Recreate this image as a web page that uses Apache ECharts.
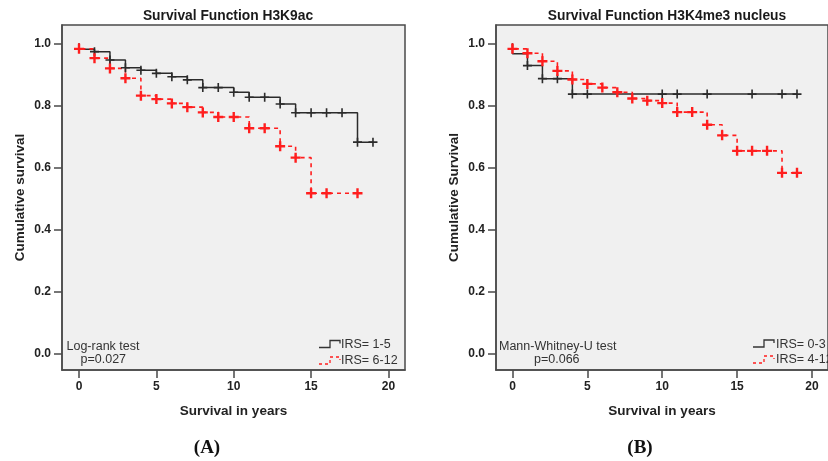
<!DOCTYPE html>
<html>
<head>
<meta charset="utf-8">
<script src="https://cdn.jsdelivr.net/npm/echarts@6/dist/echarts.min.js"></script>
<style>
html,body{margin:0;padding:0;background:#fff}
#chart{width:828px;height:461px}
</style>
</head>
<body>
<div id="chart"></div>
<script>
// tick labels
var xTicks = [0, 5, 10, 15, 20];
var yTicks = [0, 0.2, 0.4, 0.6, 0.8, 1.0];

// A: H3K9ac, IRS 1-5 (black)
var timeA1 = [0, 0, 1, 2, 3, 4, 5, 6, 7, 8, 9, 10, 11, 12, 13, 14, 15, 16, 17, 18, 19];
var survA1 = [1.0, 0.981, 0.973, 0.946, 0.921, 0.913, 0.903, 0.892, 0.882, 0.857, 0.857, 0.842, 0.826, 0.826, 0.804, 0.776, 0.776, 0.776, 0.776, 0.681, 0.681];
var censA1 = [1, 2, 3, 4, 5, 6, 7, 8, 9, 10, 11, 12, 13, 14, 15, 16, 17, 18, 19];

// A: H3K9ac, IRS 6-12 (red)
var timeA2 = [0, 0, 1, 2, 3, 4, 5, 6, 7, 8, 9, 10, 11, 12, 13, 14, 15, 16, 18];
var survA2 = [1.0, 0.982, 0.952, 0.919, 0.887, 0.831, 0.820, 0.806, 0.794, 0.777, 0.762, 0.762, 0.726, 0.726, 0.668, 0.631, 0.516, 0.516, 0.516];
var censA2 = [0, 1, 2, 3, 4, 5, 6, 7, 8, 9, 10, 11, 12, 13, 14, 15, 16, 18];

// B: H3K4me3 nucleus, IRS 0-3 (black)
var timeB1 = [0, 0, 1, 2, 3, 4, 5, 10, 11, 13, 16, 18, 19];
var survB1 = [1.0, 0.966, 0.928, 0.886, 0.886, 0.836, 0.836, 0.836, 0.836, 0.836, 0.836, 0.836, 0.836];
var censB1 = [1, 2, 3, 4, 5, 10, 11, 13, 16, 18, 19];

// B: H3K4me3 nucleus, IRS 4-12 (red)
var timeB2 = [0, 0, 1, 2, 3, 4, 5, 6, 7, 8, 9, 10, 11, 12, 13, 14, 15, 16, 17, 18, 19];
var survB2 = [1.0, 0.982, 0.968, 0.942, 0.911, 0.883, 0.869, 0.857, 0.842, 0.822, 0.815, 0.807, 0.778, 0.778, 0.737, 0.703, 0.653, 0.653, 0.653, 0.582, 0.582];
var censB2 = [0, 1, 2, 3, 4, 5, 6, 7, 8, 9, 10, 11, 12, 13, 14, 15, 16, 17, 18, 19];

var FONT = '"Liberation Sans", Arial, sans-serif';
var BLACK = '#2b2b2b';
var RED = '#ff1e1e';
var PLUS_THIN = 'path://M4.1,0H5.9V4.1H10V5.9H5.9V10H4.1V5.9H0V4.1H4.1Z';
var PLUS_BOLD = 'path://M3.8,0H6.2V3.8H10V6.2H6.2V10H3.8V6.2H0V3.8H3.8Z';

function pairs(t, s) {
  var out = [];
  for (var i = 0; i < t.length; i++) out.push([t[i], s[i]]);
  return out;
}
// level of the step curve at a censoring time
function censorPts(cens, t, s) {
  var out = [];
  for (var i = 0; i < cens.length; i++) {
    var v = s[0];
    for (var j = 0; j < t.length; j++) if (t[j] <= cens[i]) v = s[j];
    out.push([cens[i], v]);
  }
  return out;
}

function xAx(idx) {
  return {
    type: 'value', gridIndex: idx, min: -1.1, max: 21.07,
    name: 'Survival in years', nameLocation: 'middle', nameGap: 34,
    nameTextStyle: {fontFamily: FONT, fontWeight: 'bold', fontSize: 13.5, color: '#222'},
    axisLine: {show: true, onZero: false, lineStyle: {color: '#4a4a4a', width: 1.5}},
    axisTick: {show: true, length: 8, customValues: xTicks, lineStyle: {color: '#4a4a4a', width: 1.5}},
    axisLabel: {customValues: xTicks, margin: 11, fontFamily: FONT, fontWeight: 'bold', fontSize: 12, color: '#222'},
    splitLine: {show: false}
  };
}
function yAx(idx, name) {
  return {
    type: 'value', gridIndex: idx, min: -0.054, max: 1.059,
    name: name, nameLocation: 'middle', nameGap: 35,
    nameTextStyle: {fontFamily: FONT, fontWeight: 'bold', fontSize: 13.5, color: '#222'},
    axisLine: {show: true, onZero: false, lineStyle: {color: '#4a4a4a', width: 1.5}},
    axisTick: {show: true, length: 8, customValues: yTicks, lineStyle: {color: '#4a4a4a', width: 1.5}},
    axisLabel: {customValues: yTicks, margin: 11, fontFamily: FONT, fontWeight: 'bold', fontSize: 12, color: '#222',
      formatter: function (v) { return v.toFixed(1); }},
    splitLine: {show: false}
  };
}
function stepLine(idx, t, s, color, dashed) {
  return {
    type: 'line', xAxisIndex: idx, yAxisIndex: idx, step: 'end', showSymbol: false, silent: true,
    data: pairs(t, s),
    lineStyle: {color: color, width: dashed ? 1.6 : 1.5, type: dashed ? [4, 4] : 'solid'}
  };
}
function censors(idx, cens, t, s, color, bold) {
  return {
    type: 'scatter', xAxisIndex: idx, yAxisIndex: idx, silent: true,
    symbol: bold ? PLUS_BOLD : PLUS_THIN, symbolSize: bold ? 10 : 9,
    itemStyle: {color: color, opacity: 1},
    data: censorPts(cens, t, s), z: 5
  };
}
function txt(x, y, text, opt) {
  opt = opt || {};
  return {
    type: 'text', x: x, y: y, silent: true, z: 10,
    style: {text: text, fill: opt.fill || '#333', font: (opt.font || 'normal 12.5px ' + FONT),
      textAlign: opt.align || 'left', textVerticalAlign: 'middle'}
  };
}
function glyph(x, y, color, dashed) {
  return {
    type: 'polyline', silent: true, z: 10,
    shape: {points: [[x, y + 3], [x + 11, y + 3], [x + 11, y - 4], [x + 21, y - 4], [x + 21, y - 1]]},
    style: {stroke: color, lineWidth: 1.3, fill: null, lineDash: dashed ? [3, 3] : null}
  };
}
function panelTag(x, letter) {
  return {
    type: 'text', x: x, y: 448, silent: true,
    style: {text: '(' + letter + ')', textAlign: 'center', textVerticalAlign: 'middle',
      font: 'bold 19px "Liberation Serif", "Times New Roman", serif', fill: '#111'}
  };
}

var chart = echarts.init(document.getElementById('chart'));
var option = {
  animation: false,
  backgroundColor: '#fff',
  grid: [
    {left: 62, top: 25, width: 343, height: 345, show: true, backgroundColor: '#f0f0f0', borderColor: '#4a4a4a', borderWidth: 1.5},
    {left: 496, top: 25, width: 343, height: 345, show: true, backgroundColor: '#f0f0f0', borderColor: '#4a4a4a', borderWidth: 1.5}
  ],
  xAxis: [xAx(0), xAx(1)],
  yAxis: [yAx(0, 'Cumulative survival'), yAx(1, 'Cumulative Survival')],
  series: [
    stepLine(0, timeA1, survA1, BLACK, false),
    stepLine(0, timeA2, survA2, RED, true),
    censors(0, censA1, timeA1, survA1, BLACK, false),
    censors(0, censA2, timeA2, survA2, RED, true),
    stepLine(1, timeB1, survB1, BLACK, false),
    stepLine(1, timeB2, survB2, RED, true),
    censors(1, censB1, timeB1, survB1, BLACK, false),
    censors(1, censB2, timeB2, survB2, RED, true)
  ],
  graphic: [
    txt(228, 16.5, 'Survival Function H3K9ac', {align: 'center', fill: '#1a1a1a', font: 'bold 13.8px ' + FONT}),
    txt(667, 16, 'Survival Function H3K4me3 nucleus', {align: 'center', fill: '#1a1a1a', font: 'bold 13.8px ' + FONT}),
    txt(66.5, 346.5, 'Log-rank test'),
    txt(80.5, 360, 'p=0.027'),
    txt(499, 346.5, 'Mann-Whitney-U test'),
    txt(534, 360, 'p=0.066'),
    glyph(319, 344.5, '#333', false),
    glyph(319, 361, RED, true),
    txt(341, 345, 'IRS= 1-5'),
    txt(341, 360.5, 'IRS= 6-12'),
    glyph(753, 344, '#333', false),
    glyph(753, 360, RED, true),
    txt(776, 344.5, 'IRS= 0-3'),
    txt(776, 359.5, 'IRS= 4-12'),
    panelTag(207, 'A'),
    panelTag(640, 'B')
  ]
};
chart.setOption(option);
</script>
</body>
</html>
